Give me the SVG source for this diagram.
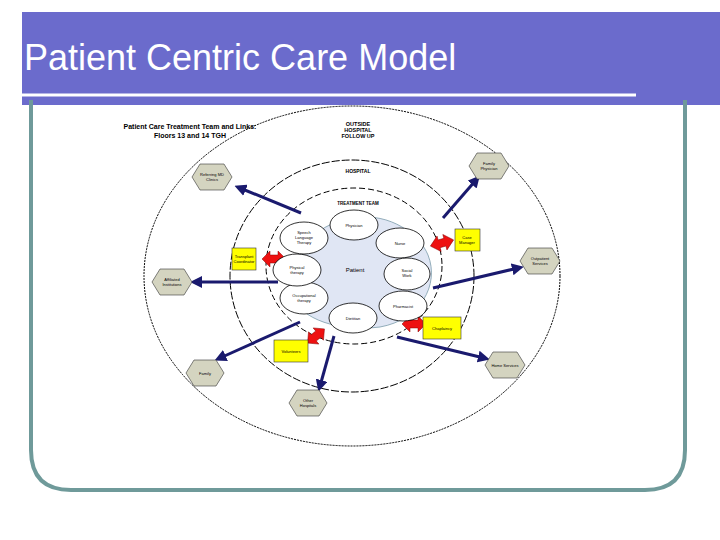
<svg xmlns="http://www.w3.org/2000/svg" width="720" height="540" viewBox="0 0 720 540">
<defs>
<style>
.t{font-family:"Liberation Sans",Arial,sans-serif;fill:#000}
.s{font-size:4px;text-anchor:middle}
.ring{fill:none;stroke:#000;stroke-width:1}
.ell{fill:#fff;stroke:#000;stroke-width:0.8}
.hex{fill:#d4d4c0;stroke:#333;stroke-width:0.6}
.box{fill:#ffff00;stroke:#333;stroke-width:0.6}
.blue{stroke:#1a1a6e;stroke-width:3;fill:none;marker-end:url(#ah)}
.red{fill:#ee1111;stroke:#800;stroke-width:0.5}
</style>
<marker id="ah" markerWidth="4" markerHeight="4" refX="2" refY="2" orient="auto" markerUnits="strokeWidth"><path d="M0,0 L4,2 L0,4 z" fill="#1a1a6e"/></marker>
</defs>
<rect width="720" height="540" fill="#fff"/>
<rect x="22" y="12" width="698" height="93" fill="#6b6bcc"/>
<line x1="22" y1="95" x2="636" y2="95" stroke="#fff" stroke-width="3"/>
<text class="t" x="24" y="70" font-size="36" style="fill:#fff">Patient Centric Care Model</text>
<path d="M31,100 V450 Q31,490 71,490 H645 Q685,490 685,450 V100" fill="none" stroke="#6f9a9a" stroke-width="4"/>
<g id="rings">
<ellipse class="ring" cx="352" cy="276" rx="208" ry="170" stroke-dasharray="2,1"/>
<ellipse class="ring" cx="352" cy="276" rx="122" ry="116" stroke-dasharray="8,2"/>
<ellipse class="ring" cx="354" cy="266" rx="88" ry="78" stroke-dasharray="6,3"/>
<path d="M355,218 C390,212 420,235 428,255 C440,285 420,320 380,327 C340,332 300,320 292,295 C282,265 310,222 355,218 z" fill="#e0e6f4" stroke="#7a9aaa" stroke-width="0.8"/>
</g>
<g class="t" font-weight="bold">
<text x="190" y="129" font-size="7" text-anchor="middle">Patient Care Treatment Team and Links:</text>
<text x="190" y="138" font-size="7" text-anchor="middle">Floors 13 and 14 TGH</text>
<text x="358" y="126" font-size="5.5" text-anchor="middle">OUTSIDE</text>
<text x="358" y="132" font-size="5.5" text-anchor="middle">HOSPITAL</text>
<text x="358" y="138" font-size="5.5" text-anchor="middle">FOLLOW UP</text>
<text x="358" y="173" font-size="5" text-anchor="middle">HOSPITAL</text>
<text x="358" y="205" font-size="4.5" text-anchor="middle">TREATMENT TEAM</text>
</g>
<g id="connectors">
<line class="blue" x1="301" y1="213" x2="240" y2="188"/>
<line class="blue" x1="443" y1="218" x2="476" y2="180"/>
<line class="blue" x1="278" y1="282" x2="196" y2="282"/>
<line class="blue" x1="433" y1="288" x2="518" y2="268"/>
<line class="blue" x1="300" y1="322" x2="220" y2="358"/>
<line class="blue" x1="334" y1="336" x2="320" y2="386"/>
<line class="blue" x1="397" y1="337" x2="484" y2="358"/>
<path class="red" d="M262,259 l8,-8 v4 h8 v-4 l8,8 l-8,8 v-4 h-8 v4 z"/>
<path class="red" d="M430,243 l9,-8 v4 h6 v-4 l9,8 l-9,8 v-4 h-6 v4 z" transform="rotate(-15 442 243)"/>
<path class="red" d="M402,324 l8,-8 v4 h8 v-4 l8,8 l-8,8 v-4 h-8 v4 z"/>
<path class="red" d="M305,336 l8,-8 v4 h6 v-4 l8,8 l-8,8 v-4 h-6 v4 z" transform="rotate(-40 316 336)"/>
</g>
<g id="team" class="t">
<g id="physician"><ellipse class="ell" cx="354" cy="225" rx="24" ry="15"/><text class="s" x="354" y="227">Physician</text></g>
<g id="nurse"><ellipse class="ell" cx="400" cy="243" rx="24" ry="15"/><text class="s" x="400" y="245">Nurse</text></g>
<g id="social"><ellipse class="ell" cx="407" cy="274" rx="23" ry="16"/><text class="s" x="407" y="272">Social</text><text class="s" x="407" y="277">Work</text></g>
<g id="pharm"><ellipse class="ell" cx="403" cy="306" rx="24" ry="15"/><text class="s" x="403" y="308">Pharmacist</text></g>
<g id="diet"><ellipse class="ell" cx="353" cy="318" rx="24" ry="15"/><text class="s" x="353" y="320">Dietitian</text></g>
<g id="ot"><ellipse class="ell" cx="304" cy="298" rx="24" ry="16"/><text class="s" x="304" y="297">Occupational</text><text class="s" x="304" y="302">therapy</text></g>
<g id="pt"><ellipse class="ell" cx="297" cy="270" rx="24" ry="16"/><text class="s" x="297" y="269">Physical</text><text class="s" x="297" y="274">therapy</text></g>
<g id="slp"><ellipse class="ell" cx="304" cy="238" rx="24" ry="16"/><text class="s" x="304" y="234">Speech</text><text class="s" x="304" y="239">Language</text><text class="s" x="304" y="244">Therapy</text></g>
<text x="355" y="272" font-size="6" text-anchor="middle">Patient</text>
</g>
<g id="hexes" class="t">
<g id="h1"><polygon class="hex" points="192,177 200,164 224,164 232,177 224,190 200,190"/><text class="s" x="212" y="176">Referring MD</text><text class="s" x="212" y="181">Clinics</text></g>
<g id="h2"><polygon class="hex" points="469,166 477,153 501,153 509,166 501,179 477,179"/><text class="s" x="489" y="165">Family</text><text class="s" x="489" y="170">Physician</text></g>
<g id="h3"><polygon class="hex" points="520,261 528,248 552,248 560,261 552,274 528,274"/><text class="s" x="540" y="260">Outpatient</text><text class="s" x="540" y="265">Services</text></g>
<g id="h4"><polygon class="hex" points="152,282 160,269 184,269 192,282 184,295 160,295"/><text class="s" x="172" y="281">Affiliated</text><text class="s" x="172" y="286">Institutions</text></g>
<g id="h5"><polygon class="hex" points="186,373 194,360 216,360 224,373 216,386 194,386"/><text class="s" x="205" y="375">Family</text></g>
<g id="h6"><polygon class="hex" points="485,365 493,352 517,352 525,365 517,378 493,378"/><text class="s" x="505" y="367">Home Services</text></g>
<g id="h7"><polygon class="hex" points="289,403 297,390 319,390 327,403 319,416 297,416"/><text class="s" x="308" y="402">Other</text><text class="s" x="308" y="407">Hospitals</text></g>
</g>
<g id="boxes" class="t">
<g id="b1"><rect class="box" x="232" y="248" width="24" height="22"/><text class="s" x="244" y="258">Transplant</text><text class="s" x="244" y="263">Coordinator</text></g>
<g id="b2"><rect class="box" x="455" y="229" width="25" height="22"/><text class="s" x="467" y="239">Case</text><text class="s" x="467" y="244">Manager</text></g>
<g id="b3"><rect class="box" x="423" y="317" width="38" height="22"/><text class="s" x="442" y="330">Chaplaincy</text></g>
<g id="b4"><rect class="box" x="274" y="340" width="34" height="22"/><text class="s" x="291" y="353">Volunteers</text></g>
</g>
</svg>
